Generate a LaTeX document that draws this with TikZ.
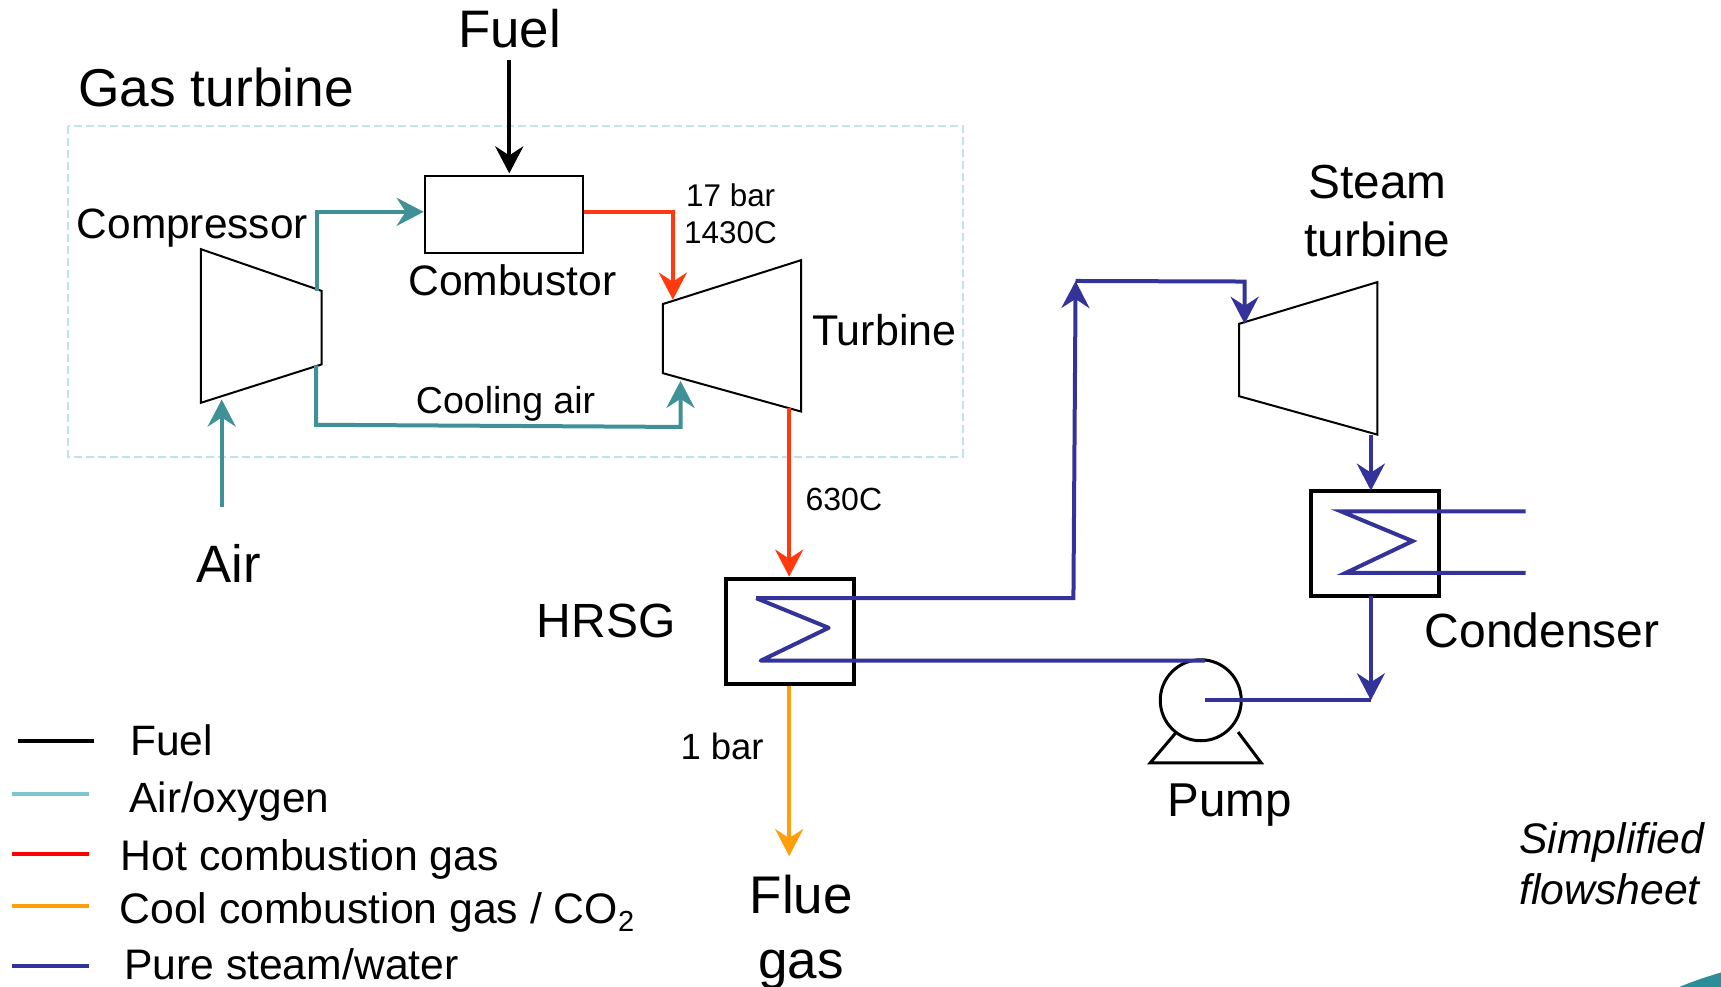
\documentclass[tikz,border=0pt]{standalone}
\usepackage{fontspec}
\setmainfont{Liberation Sans}
\usetikzlibrary{arrows.meta,calc}
\definecolor{tealflow}{HTML}{3F9097}
\definecolor{hotflow}{HTML}{FF3A0E}
\definecolor{coolflow}{HTML}{FF9E0B}
\definecolor{steamflow}{HTML}{343399}
\definecolor{legteal}{HTML}{7CC6CC}
\definecolor{legred}{HTML}{FF0000}
\definecolor{boxdash}{HTML}{BFE3E6}
\definecolor{swoosh}{HTML}{2F8C99}
\newcommand\setfs[1]{\fontsize{#1pt}{#1pt}\selectfont}
\tikzset{
  flowtip/.style={-{Stealth[length=27pt,width=28pt,inset=9pt]}},
  flow/.style={line width=4pt,line join=miter},
  tealline/.style={flow,draw=tealflow},
  hotline/.style={flow,draw=hotflow},
  coolline/.style={flow,draw=coolflow},
  steamline/.style={flow,draw=steamflow},
  fuelline/.style={flow,draw=black},
  thinbox/.style={draw=black,line width=2pt,inner sep=0pt,minimum width=158pt,minimum height=77pt},
  hxbox/.style={draw=black,line width=4pt,inner sep=0pt,minimum width=128pt,minimum height=105pt},
  machine/.style={draw=black,line width=2pt,line join=miter},
  lbl/.style={anchor=base west,inner sep=0pt,outer sep=0pt,font=\setfs{#1}},
  mlbl/.style={anchor=center,inner sep=0pt,outer sep=0pt,align=left,font=\setfs{#1}},
  legline/.style={line width=4pt}
}
\begin{document}
\begin{tikzpicture}[x=1.09758pt,y=-1.09758pt]
\useasboundingbox (0,0) rectangle (1568,899.25);
% system boundary
\draw[boxdash,line width=2pt,dash pattern=on 8pt off 4pt] (62,115) rectangle (877,416);
% equipment
\node[thinbox] (combustor) at (459,195) {};
\node[hxbox] (hrsg) at (719.5,575) {};
\node[hxbox] (condenser) at (1253,495.5) {};
\draw[machine] (183,227) coordinate (cTL) -- (293,265) coordinate (cTR) -- (293,332) coordinate (cBR) -- (183,367) coordinate (cBL) -- cycle;
\draw[machine] (604,277) coordinate (tTL) -- (730,237) coordinate (tTR) -- (730,375) coordinate (tBR) -- (604,340) coordinate (tBL) -- cycle;
\draw[machine] (1129,295) coordinate (sTL) -- (1255,257) coordinate (sTR) -- (1255,396) coordinate (sBR) -- (1129,361) coordinate (sBL) -- cycle;
% pump
\node[draw=black,line width=3pt,circle,inner sep=0pt,minimum size=81pt] (pump) at (1094,638) {};
\draw[black,line width=3pt,line join=miter] (1071,668) -- (1048,695) -- (1149,695) -- (1128,667);
% free ends
\coordinate (fuelin) at (464,55);
\coordinate (airin) at (202,462);
\coordinate (flueout) at (719,780);
\coordinate (coolA) at (1390,466);
\coordinate (coolB) at (1390,522);
\coordinate (pumpin) at (1098,638);
\coordinate (mix) at (1249,638);
% connectors
\draw[fuelline,flowtip] (fuelin) -- (464,158);
\draw[tealline,flowtip] (airin) -- (202,364);
\draw[tealline,flowtip] (289,265) -- (289,193) -- (386,193);
\draw[tealline,flowtip] (288,333) -- (288,387) -- (620,389) -- (620,347);
\draw[hotline,flowtip] (combustor.east |- 0,193) -- (613,193) -- (613,273);
\draw[hotline,flowtip] (719,372) -- (hrsg.north -| 719,0);
\draw[coolline,flowtip] (hrsg.south -| 719,0) -- (flueout);
% HRSG coil and steam loop
\draw[steamline,flowtip] (689,545) -- (978,545) -- (980,256);
\draw[steamline,flowtip] (980,256) -- (1134,256.5) -- (1134,295);
\draw[steamline,line join=round] (689,545) -- (755,572) -- (693,602) -- (1098,602);
% condenser
\draw[steamline,flowtip] (1249,396) -- (1249,447);
\draw[steamline] (coolA) -- (1222,466) -- (1287,493) -- (1226,522) -- (coolB);
\draw[steamline,flowtip] (1249,543) -- (mix);
\draw[steamline] (pumpin) -- (mix);
% labels
\node[lbl=52.8] (lfuel) at (417.5,43) {Fuel};
\node[lbl=53.3] (lgas) at (71.5,97) {Gas turbine};
\node[lbl=42.4] (lcomp) at (70,217) {Compressor};
\node[lbl=42.6] (lcomb) at (372,269) {Combustor};
\node[mlbl=31.4] (lpress) at (665.5,194.5) {\hspace*{2pt}17 bar\\[5.5pt]1430C};
\node[lbl=43] (lturb) at (740,315) {Turbine};
\node[lbl=37.5] (lcool) at (379,377) {Cooling air};
\node[lbl=52.6] (lair) at (179,531) {Air};
\node[lbl=32] (l630) at (734,465) {630C};
\node[lbl=48] (lhrsg) at (489,581) {HRSG};
\node[lbl=36.5] (l1bar) at (620,692) {1 bar};
\node[anchor=center,inner sep=0pt,align=center,font=\setfs{53}] (lflue) at (730,849) {Flue\\[12pt]gas};
\node[anchor=center,inner sep=0pt,align=center,font=\setfs{47.8}] (lsteam) at (1255,192) {Steam\\[10pt]turbine};
\node[lbl=48] (lcond) at (1298,590) {Condenser};
\node[lbl=47.5] (lpump) at (1064,744) {Pump};
\node[mlbl=42.7,font=\setfs{42.7}\itshape] (lsimp) at (1468.5,787) {Simplified\\[9pt]flowsheet};
% legend
\node[lbl=42.5] (k1) at (118.5,688) {Fuel};
\node[lbl=42.3] (k2) at (118,740) {Air/oxygen};
\node[lbl=42.8] (k3) at (110,793) {Hot combustion gas};
\node[lbl=42.7] (k4) at (109,841) {Cool combustion gas / CO\raisebox{-8pt}{\setfs{29}2}};
\node[lbl=42.7] (k5) at (113,892) {Pure steam/water};
\draw[legline,black] (16,675) -- (86,675);
\draw[legline,legteal] (11,723) -- (81,723);
\draw[legline,legred] (11,778) -- (81,778);
\draw[legline,coolflow] (11,825) -- (81,825);
\draw[legline,steamflow] (11,880) -- (81,880);
% corner swoosh
\fill[swoosh] (1530,899.25) .. controls (1545,893) and (1558,889) .. (1568,886) -- (1568,899.25) -- cycle;
\end{tikzpicture}
\end{document}
